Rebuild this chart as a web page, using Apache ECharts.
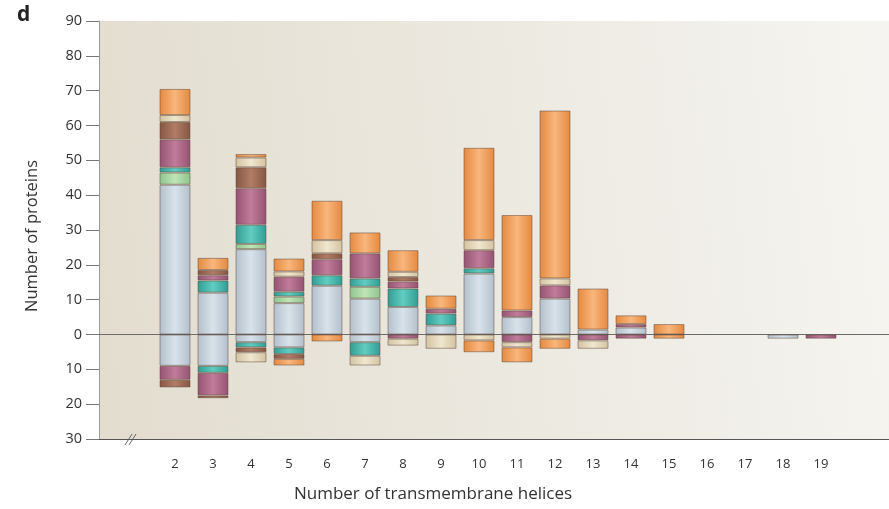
<!DOCTYPE html>
<html>
<head>
<meta charset="utf-8">
<title>Number of transmembrane helices</title>
<script src="https://cdn.jsdelivr.net/npm/echarts@6/dist/echarts.min.js"></script>
<style>
  html, body { margin: 0; padding: 0; background: #fff; }
  #chart { width: 889px; height: 509px; }
</style>
</head>
<body>
<div id="chart"></div>
<script>
// helix counts along the x axis
const helices = ['2', '3', '4', '5', '6', '7', '8', '9', '10', '11', '12', '13', '14', '15', '16', '17', '18', '19'];
// y tick values (labels shown as absolute values)
const yTicks = [-30, -20, -10, 0, 10, 20, 30, 40, 50, 60, 70, 80, 90];

// segment heights above zero, stacked bottom -> top
const upBlue   = [43, 12, 24.5, 9, 14, 10.3, 7.9, 2.6, 17.5, 5, 10.3, 1.4, 2, 0, 0, 0, 0, 0];
const upGreen  = [3.5, 0, 1.5, 1.9, 0, 3.4, 0, 0, 0, 0, 0, 0, 0, 0, 0, 0, 0, 0];
const upTeal   = [1.5, 3.5, 5.5, 1.4, 3, 2.4, 5.3, 3.4, 1.5, 0, 0, 0, 0, 0, 0, 0, 0, 0];
const upMauve  = [8, 1.5, 10.5, 4.3, 4.6, 7.2, 2, 1.4, 5.2, 1.9, 3.8, 0, 1, 0, 0, 0, 0, 0];
const upBrown  = [5, 1.5, 6, 0, 1.7, 0, 1.3, 0, 0, 0, 0, 0, 0, 0, 0, 0, 0, 0];
const upCream  = [2, 0, 2.8, 1.5, 3.8, 0, 1.5, 0, 2.9, 0, 2, 0, 0, 0, 0, 0, 0, 0];
const upOrange = [7.5, 3.5, 1, 3.7, 11.3, 6, 6.2, 3.8, 26.5, 27.4, 48.2, 11.8, 2.5, 3, 0, 0, 0, 0];

// segment heights below zero, stacked top -> bottom
const downBlue   = [-9, -9, -2.2, -3.7, 0, -2.2, 0, 0, 0, 0, 0, 0, 0, 0, 0, 0, -1.2, 0];
const downGreen  = [0, 0, 0, 0, 0, 0, 0, 0, 0, 0, 0, 0, 0, 0, 0, 0, 0, 0];
const downTeal   = [0, -2, -1.5, -1.9, 0, -3.9, 0, 0, 0, 0, 0, 0, 0, 0, 0, 0, 0, 0];
const downMauve  = [-4, -6.5, 0, 0, 0, 0, -1.2, 0, 0, -2.2, 0, -1.7, -1.2, 0, 0, 0, 0, -1.2];
const downBrown  = [-2.2, -0.8, -1.4, -1.4, 0, 0, 0, 0, 0, 0, 0, 0, 0, 0, 0, 0, 0, 0];
const downCream  = [0, 0, -2.9, 0, 0, -2.8, -2, -4.1, -1.7, -1.5, -1.2, -2.4, 0, 0, 0, 0, 0, 0];
const downOrange = [0, 0, 0, -1.9, -2, 0, 0, 0, -3.4, -4.3, -2.9, 0, 0, -1.2, 0, 0, 0, 0];

// edge / centre shades for the cylinder look
const shades = {
  blue:   ['#b2c0cc', '#d8e2ea'],
  green:  ['#8ec48c', '#c0e4b8'],
  teal:   ['#2f9d95', '#62ccc0'],
  mauve:  ['#945373', '#c07c9a'],
  brown:  ['#845644', '#b27c65'],
  cream:  ['#d2c2a0', '#f0e7d0'],
  orange: ['#e3893f', '#f9b67c']
};

function cyl(c) {
  return new echarts.graphic.LinearGradient(0, 0, 1, 0, [
    { offset: 0, color: c[0] },
    { offset: 0.5, color: c[1] },
    { offset: 1, color: c[0] }
  ]);
}

const ups = [['blue', upBlue], ['green', upGreen], ['teal', upTeal], ['mauve', upMauve],
             ['brown', upBrown], ['cream', upCream], ['orange', upOrange]];
const downs = [['blue', downBlue], ['green', downGreen], ['teal', downTeal], ['mauve', downMauve],
               ['brown', downBrown], ['cream', downCream], ['orange', downOrange]];

const series = [];
ups.concat(downs).forEach(function (d) {
  series.push({
    type: 'bar',
    xAxisIndex: 1,
    yAxisIndex: 1,
    stack: 'tm',
    barWidth: 31,
    data: d[1].map(v => (v === 0 ? '-' : v)),
    itemStyle: {
      color: cyl(shades[d[0]]),
      borderColor: 'rgba(95,70,55,0.5)',
      borderWidth: 1
    },
    silent: true
  });
});

const font = 'Open Sans';
const chart = echarts.init(document.getElementById('chart'));

const option = {
  animation: false,
  textStyle: { fontFamily: font },
  grid: [
    {
      left: 99, right: 0, top: 21, bottom: 70,
      show: true, borderWidth: 0,
      backgroundColor: new echarts.graphic.LinearGradient(0, 0.6, 1, 0.4, [
        { offset: 0, color: '#e2ddcf' },
        { offset: 1, color: '#f5f4f0' }
      ])
    },
    { left: 156, width: 684, top: 21, bottom: 70 }
  ],
  xAxis: [
    // zero line
    { type: 'value', gridIndex: 0, min: 0, max: 1, axisLine: { onZero: true, lineStyle: { color: '#6b6b6b' } },
      axisTick: { show: false }, axisLabel: { show: false }, splitLine: { show: false } },
    // helix categories
    { type: 'category', gridIndex: 1, data: helices, axisLine: { show: false },
      axisTick: { alignWithLabel: true, length: 7, lineStyle: { color: '#555' } },
      axisLabel: { margin: 19, fontSize: 13, color: '#333', fontFamily: font } },
    // bottom axis line
    { type: 'value', gridIndex: 0, min: 0, max: 1, position: 'bottom',
      axisLine: { onZero: false, lineStyle: { color: '#555' } },
      axisTick: { show: false }, axisLabel: { show: false }, splitLine: { show: false } }
  ],
  yAxis: [
    { type: 'value', gridIndex: 0, min: yTicks[0], max: yTicks[yTicks.length - 1], interval: 10,
      axisLine: { show: true, lineStyle: { color: '#9a9a9a' } },
      axisTick: { show: true, length: 13, lineStyle: { color: '#777' } },
      axisLabel: { margin: 17, fontSize: 14.5, color: '#333', fontFamily: font,
        formatter: v => String(Math.abs(v)) },
      splitLine: { show: false } },
    { type: 'value', gridIndex: 1, min: yTicks[0], max: yTicks[yTicks.length - 1], show: false,
      splitLine: { show: false } }
  ],
  graphic: [
    { type: 'text', left: 17, top: 5, style: { text: 'd', font: 'bold 21px ' + font, fill: '#222' } },
    { type: 'text', x: 32, y: 236, rotation: Math.PI / 2,
      style: { text: 'Number of proteins', font: '16.5px ' + font, fill: '#333', align: 'center', verticalAlign: 'middle' } },
    { type: 'text', x: 433, y: 494,
      style: { text: 'Number of transmembrane helices', font: '17px ' + font, fill: '#333', align: 'center', verticalAlign: 'middle' } },
    { type: 'line', shape: { x1: 125, y1: 445, x2: 132, y2: 434 }, style: { stroke: '#666', lineWidth: 1 } },
    { type: 'line', shape: { x1: 129, y1: 445, x2: 136, y2: 434 }, style: { stroke: '#666', lineWidth: 1 } }
  ],
  series: series
};

chart.setOption(option);
</script>
</body>
</html>
